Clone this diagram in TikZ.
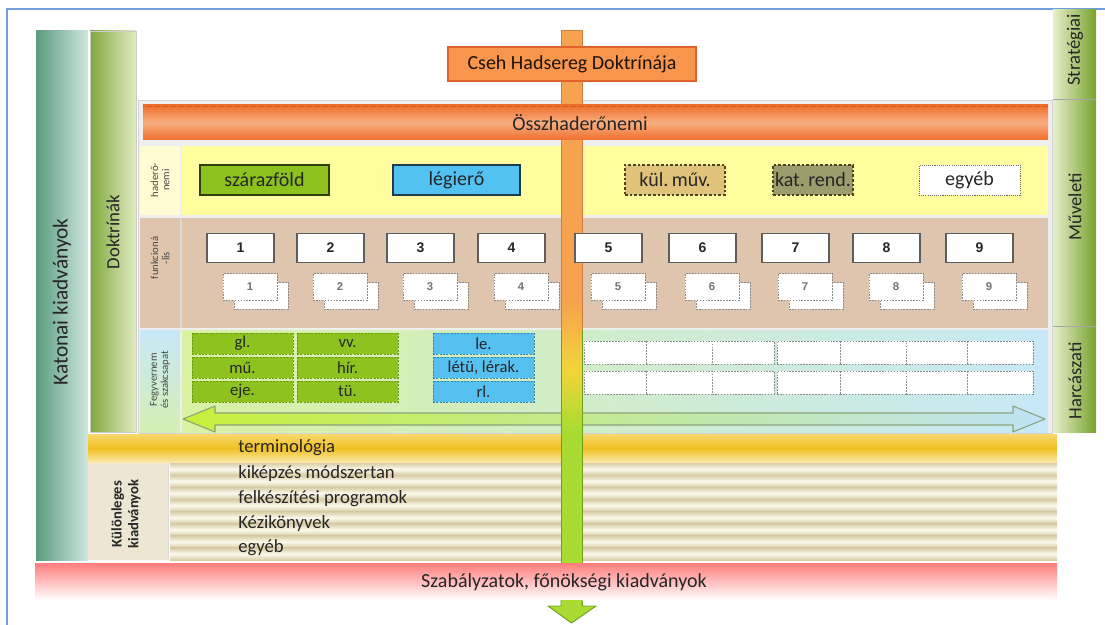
\documentclass[tikz,border=0pt]{standalone}
\usepackage{fontspec}
\setmainfont{Carlito}
\newfontfamily\arialf{Liberation Sans}
\usetikzlibrary{calc}
\definecolor{frameblue}{HTML}{6FA0DC}
\definecolor{katL}{HTML}{5A9C7E}
\definecolor{katR}{HTML}{CFE6DF}
\definecolor{dokL}{HTML}{7FA83C}
\definecolor{dokR}{HTML}{E2ECC2}
\definecolor{tabL}{HTML}{E6EFCB}
\definecolor{tabR}{HTML}{78A22E}
\definecolor{csehfill}{HTML}{F7964C}
\definecolor{csehdraw}{HTML}{E0622A}
\definecolor{osszT}{HTML}{EF6E2C}
\definecolor{osszM}{HTML}{F9AE80}
\definecolor{panel}{HTML}{EFEFEF}
\definecolor{panelline}{HTML}{D4D4D4}
\definecolor{rowyellow}{HTML}{FFFD9E}
\definecolor{cellyellow}{HTML}{FFFBD2}
\definecolor{rowbrown}{HTML}{E0C5AE}
\definecolor{rowgreenL}{HTML}{D8F1A2}
\definecolor{rowblueR}{HTML}{C7E8F7}
\definecolor{szgreen}{HTML}{8CC11E}
\definecolor{szdraw}{HTML}{2F3F0E}
\definecolor{legblue}{HTML}{52C2F2}
\definecolor{legdraw}{HTML}{1F3A4F}
\definecolor{kultan}{HTML}{E0C27A}
\definecolor{katolive}{HTML}{9C9C6C}
\definecolor{dashdark}{HTML}{4A4420}
\definecolor{boxgray}{HTML}{5E5E5E}
\definecolor{subgray}{HTML}{8A8A8A}
\definecolor{cellgreen}{HTML}{8EC31F}
\definecolor{cellgreendraw}{HTML}{6C9A12}
\definecolor{cellblue}{HTML}{56C1F0}
\definecolor{cellbluedraw}{HTML}{3A84B4}
\definecolor{termM}{HTML}{F0C020}
\definecolor{termT}{HTML}{F8D870}
\definecolor{stripeT}{HTML}{D9CCA6}
\definecolor{stripeM}{HTML}{FCFAEE}
\definecolor{kulcell}{HTML}{EDE6D2}
\definecolor{redT}{HTML}{FF7C7C}
\definecolor{shOrange}{HTML}{F6A24E}
\definecolor{shOrangeDraw}{HTML}{C9803E}
\definecolor{shYellow}{HTML}{F2D43A}
\definecolor{shGreen}{HTML}{A9DC32}
\definecolor{shGreenDraw}{HTML}{6E9E1E}
\definecolor{arrGreen}{HTML}{C6F03A}
\definecolor{arrBlue}{HTML}{BFE3F5}
\definecolor{arrDraw}{HTML}{8CA27A}
\definecolor{txt}{HTML}{262626}
\tikzset{
  tx/.style={inner sep=0pt, text=txt},
  big/.style={tx, font=\fontsize{15}{17}\selectfont},
  mid/.style={tx, font=\fontsize{12.5}{14}\selectfont},
  tabtext/.style={tx, rotate=90, font=\fontsize{14}{16}\selectfont},
  tinylbl/.style={inner sep=0pt, rotate=90, align=center, text=txt!85,
                  font=\fontsize{8}{8.5}\selectfont},
  forcebox/.style={big, draw=szdraw, line width=1.3pt, minimum height=22.5pt},
  dashbox/.style={big, draw=dashdark, line width=1.3pt, dash pattern=on 2pt off 1.5pt,
                  minimum height=22.5pt},
  topbox/.style={draw=boxgray, line width=1pt, fill=white, minimum width=50.25pt,
                 minimum height=21.75pt, inner sep=0pt, font=\arialf\bfseries\fontsize{10.5}{12}\selectfont, text=txt},
  subbox/.style={draw=subgray, line width=0.6pt, dash pattern=on 1.2pt off 1pt, fill=white,
                 minimum width=40.5pt, minimum height=20pt, inner sep=0pt,
                 font=\arialf\bfseries\fontsize{8.5}{10}\selectfont, text=black!55},
  gcell/.style={mid, fill=cellgreen, draw=cellgreendraw, dash pattern=on 1.5pt off 1pt,
                line width=0.7pt, minimum width=75.75pt, minimum height=15.75pt},
  bcell/.style={mid, fill=cellblue, draw=cellbluedraw, dash pattern=on 1.5pt off 1pt,
                line width=0.7pt, minimum width=75.75pt, minimum height=15.75pt},
  wcell/.style={fill=white, draw=black!45, dash pattern=on 1.2pt off 1pt, line width=0.6pt,
                minimum height=17.25pt, inner sep=0pt},
  striptext/.style={tx, anchor=west, font=\fontsize{14}{16}\selectfont},
}
\begin{document}
\begin{tikzpicture}[x=0.75pt,y=0.75pt]
\useasboundingbox (0,0) rectangle (1105,-624);
% frame
\draw[frameblue, line width=0.9pt] (7,-630) -- (7,-9) -- (1110,-9);

% left columns
\shade[left color=katL, right color=katR] (36,-31) rectangle (88,-560);
\node[tabtext, font=\fontsize{16}{18}\selectfont] (katlbl) at (62,-302) {Katonai kiadványok};
\shade[left color=dokL, right color=dokR] (90,-31) rectangle (136,-432);
\draw[black!20, line width=0.4pt] (90,-31) rectangle (136,-432);
\node[tabtext, font=\fontsize{14}{16}\selectfont] (doklbl) at (113,-232) {Doktrínák};

% right tabs
\shade[left color=tabL, right color=tabR] (1053,-10) rectangle (1096,-99);
\shade[left color=tabL, right color=tabR] (1053,-100) rectangle (1096,-326);
\shade[left color=tabL, right color=tabR] (1053,-327) rectangle (1096,-432);
\draw[black!35, line width=0.4pt] (1053,-99.5) -- (1096,-99.5) (1053,-326.5) -- (1096,-326.5);
\node[tabtext] (strat) at (1075,-50) {Stratégiai};
\node[tabtext] (muv) at (1075,-207) {Műveleti};
\node[tabtext] (harc) at (1075,-381) {Harcászati};

% panel
\filldraw[fill=panel, draw=panelline, line width=0.6pt] (138,-100) rectangle (1052,-433);

% rows
\fill[cellyellow] (140,-146) rectangle (180,-215);
\fill[rowyellow] (182,-146) rectangle (1048,-215);
\fill[rowbrown] (140,-218) rectangle (1048,-328);
\draw[white!85!black, line width=0.8pt] (181,-218) -- (181,-328);
\shade[top color=rowblueR, bottom color=rowgreenL!80!rowblueR] (140,-330) rectangle (180,-432);
\shade[left color=rowgreenL, right color=rowblueR] (182,-330) rectangle (1048,-432);

\node[tinylbl] (lblhad) at (160,-180) {haderő-\\nemi};
\node[tinylbl] (lblfun) at (160,-258) {funkcioná\\-lis};
\node[tinylbl] (lblfegy) at (160,-380) {Fegyvernem\\és szakcsapat};

% force boxes
\node[forcebox, fill=szgreen, minimum width=96.75pt] (szaraz) at (264.5,-180) {szárazföld};
\node[forcebox, fill=legblue, draw=legdraw, minimum width=95.25pt] (legi) at (456.5,-180) {légierő};
\node[dashbox, fill=kultan, minimum width=75pt] (kul) at (675,-180) {kül.\,műv.};
\node[dashbox, fill=katolive, minimum width=60pt] (katrend) at (813,-180) {kat.\,rend.};
\node[big, fill=white, draw=black!60, line width=0.5pt, dash pattern=on 0.8pt off 0.8pt,
      minimum width=75.75pt, minimum height=22.5pt] (egyeb) at (969.5,-180) {egyéb};

% functional boxes
\foreach \n/\l in {1/207,2/297,3/387,4/478,5/575,6/669,7/762,8/853,9/946}{
  \node[subbox] (sb\n) at ({\l+54},-296) {};
  \node[subbox] (sf\n) at ({\l+43},-287) {\n};
}
\foreach \n/\l in {1/207,2/297,3/387,4/478,6/669,7/762,8/853,9/946}{
  \node[topbox] (f\n) at ({\l+33.5},-248) {\n};
}

% branch cells
\node[gcell] (gl) at (242.5,-343.5) {gl.};
\node[gcell] (mu) at (242.5,-367.5) {mű.};
\node[gcell] (eje) at (242.5,-391.5) {eje.};
\node[gcell] (vv) at (347.5,-343.5) {vv.};
\node[gcell] (hir) at (347.5,-367.5) {hír.};
\node[gcell] (tu) at (347.5,-391.5) {tü.};
\node[bcell] (le) at (483.5,-343.5) {le.};
\node[bcell] (letu) at (483.5,-367.5) {létü, lérak.};
\node[bcell] (rl) at (483.5,-391.5) {rl.};
\foreach \r/\y in {a/352.5,b/382.5}{
  \foreach \c/\xa/\xb in {1/584/646,2/646/712,3/712/774,4/777/840,5/840/906,6/906/967,7/967/1033}{
    \node[wcell, minimum width={(\xb-\xa)*0.75pt}] (w\r\c) at ({(\xa+\xb)/2},-\y) {};
  }
}

% double arrow
\coordinate (dl) at (183,-419);
\coordinate (dr) at (1045,-419);
\shadedraw[left color=arrGreen, right color=arrBlue, draw=arrDraw, line width=0.8pt, line join=round]
  (dl) -- ($(dl)+(32,13)$) -- ($(dl)+(32,6)$) -- ($(dr)+(-32,6)$) -- ($(dr)+(-32,13)$) -- (dr)
  -- ($(dr)+(-32,-13)$) -- ($(dr)+(-32,-6)$) -- ($(dl)+(32,-6)$) -- ($(dl)+(32,-13)$) -- cycle;

% terminology and special publications
\shade[top color=termT, bottom color=termT!60!white, middle color=termM] (88,-434) rectangle (1057,-462);
\node[striptext] (term) at (238,-448) {terminológia};
\fill[kulcell] (88,-463) rectangle (168,-560);
\draw[black!15, line width=0.5pt] (168.5,-463) -- (168.5,-560);
\node[tx, rotate=90, align=center, font=\bfseries\fontsize{11}{12.5}\selectfont] (kulonl) at (126,-514) {Különleges\\kiadványok};
\foreach \i in {0,...,7}{
  \shade[top color=stripeT, bottom color=stripeT, middle color=stripeM]
    (170,{-463-12.125*\i}) rectangle (1057,{-463-12.125*(\i+1)});
}
\node[striptext] (kik) at (238,-474) {kiképzés módszertan};
\node[striptext] (felk) at (238,-499) {felkészítési programok};
\node[striptext] (kezi) at (238,-524) {Kézikönyvek};
\node[striptext] (egy2) at (238,-548) {egyéb};

% vertical shaft
\coordinate (shaftTop) at (571.5,-30);
\coordinate (shaftTip) at (571.5,-623);
\fill[shOrange] ($(shaftTop)+(-10.5,0)$) rectangle ($(shaftTop)+(10.5,-270)$);
\shade[top color=shOrange, bottom color=shYellow] ($(shaftTop)+(-10.5,-270)$) rectangle ($(shaftTop)+(10.5,-340)$);
\shade[top color=shYellow, bottom color=shGreen] ($(shaftTop)+(-10.5,-340)$) rectangle ($(shaftTop)+(10.5,-400)$);
\fill[shGreen] ($(shaftTop)+(-10.5,-400)$) rectangle ($(shaftTip)+(10.5,17)$);
\draw[shOrangeDraw, line width=0.7pt] ($(shaftTop)+(-10.5,-300)$) -- ($(shaftTop)+(-10.5,0)$) -- ($(shaftTop)+(10.5,0)$) -- ($(shaftTop)+(10.5,-300)$);
\draw[shGreenDraw, line width=0.7pt] ($(shaftTop)+(-10.5,-300)$) -- ($(shaftTip)+(-10.5,17)$)
  ($(shaftTop)+(10.5,-300)$) -- ($(shaftTip)+(10.5,17)$);

% top-level boxes over shaft
\shade[top color=osszT, bottom color=osszT, middle color=osszM] (143,-105) rectangle (1048,-140);
\draw[osszT!80!black, line width=0.5pt, dash pattern=on 1pt off 1pt] (143,-106.5) -- (1048,-106.5);
\node[big] (ossz) at (580,-123) {Összhaderőnemi};
\node[big, fill=csehfill, draw=csehdraw, line width=1.6pt, minimum width=186pt, minimum height=25.5pt, text=black!85!brown] (cseh) at (572,-64) {Cseh Hadsereg Doktrínája};
\node[topbox] (f5) at (608.5,-248) {5};

% regulations bar
\shade[top color=redT, bottom color=white] (35,-563) rectangle (1057,-600);
\node[big] (szab) at (564,-582) {Szabályzatok, főnökségi kiadványok};

% arrow head
\filldraw[fill=shGreen, draw=shGreenDraw, line width=0.7pt, line join=round]
  ($(shaftTip)+(-10.5,23)$) -- ($(shaftTip)+(-10.5,17)$) -- ($(shaftTip)+(-23.5,17)$) -- (shaftTip)
  -- ($(shaftTip)+(24.5,17)$) -- ($(shaftTip)+(10.5,17)$) -- ($(shaftTip)+(10.5,23)$);
\end{tikzpicture}
\end{document}
